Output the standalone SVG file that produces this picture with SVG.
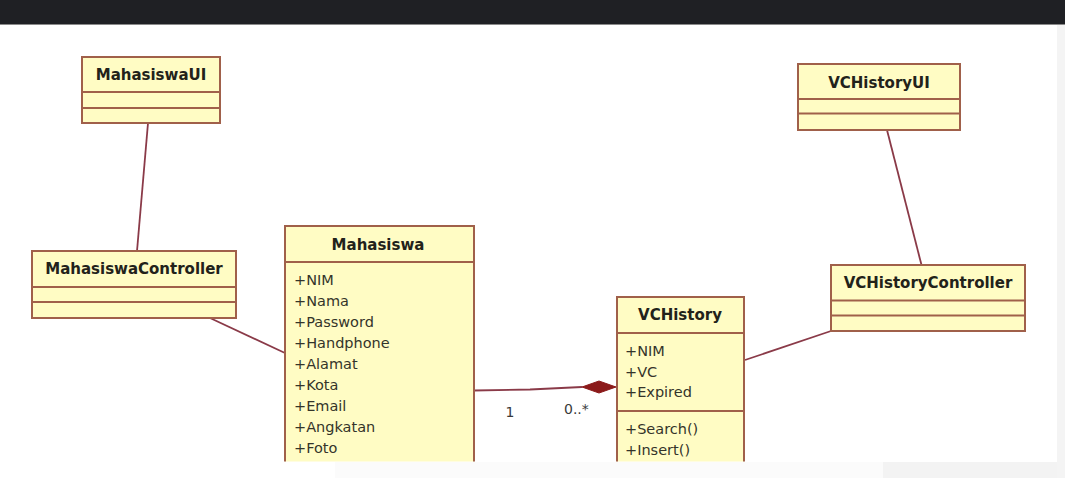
<svg xmlns="http://www.w3.org/2000/svg" width="1065" height="478" viewBox="0 0 1065 478">
<style>
.box{fill:#fffcc4;stroke:#a0604a;stroke-width:2}
.div{stroke:#a0604a;stroke-width:2}
.title{font-family:"DejaVu Sans",Verdana,sans-serif;font-weight:bold;font-size:15px;fill:#22221a;text-anchor:middle}
.attr{font-family:"DejaVu Sans",Verdana,sans-serif;font-size:14.5px;fill:#34342a}
.lbl{font-family:"DejaVu Sans",Verdana,sans-serif;font-size:14px;fill:#3a3a3a}
.conn{stroke:#8a3a48;stroke-width:1.8;fill:none}
</style>
<defs>
<clipPath id="clip"><rect x="0" y="25" width="1057" height="436.5"/></clipPath>
</defs>
<rect x="0" y="0" width="1065" height="478" fill="#ffffff"/>
<rect x="1057" y="24" width="8" height="454" fill="#f4f4f4"/>
<rect x="883" y="462" width="174" height="16" fill="#f3f3f3"/>
<rect x="335" y="462" width="548" height="16" fill="#fbfbfb"/>
<rect x="0" y="0" width="1065" height="24" fill="#1f2024"/>
<line x1="0" y1="24.5" x2="1065" y2="24.5" stroke="#8a8a8a" stroke-width="1"/>
<g clip-path="url(#clip)">
<g id="connectors">
<line class="conn" x1="148" y1="123" x2="137" y2="251"/>
<line class="conn" x1="210" y1="318" x2="285" y2="353"/>
<line class="conn" x1="887" y1="130" x2="921.5" y2="265"/>
<line class="conn" x1="831" y1="331" x2="745" y2="360"/>
<polyline class="conn" points="474,390.5 530,389.5 582,387"/>
<polygon points="582,387 599,381 616,387 599,393" fill="#8b1a1a" stroke="#8b1a1a" stroke-width="1"/>
<text class="lbl" x="510" y="417" text-anchor="middle">1</text>
<text class="lbl" x="564" y="414">0..*</text>
</g>
<g id="MahasiswaUI">
<rect class="box" x="82" y="57" width="138" height="66"/>
<line class="div" x1="82" y1="92" x2="220" y2="92"/>
<line class="div" x1="82" y1="108" x2="220" y2="108"/>
<text class="title" x="151" y="80">MahasiswaUI</text>
</g>
<g id="MahasiswaController">
<rect class="box" x="32" y="251" width="204" height="67"/>
<line class="div" x1="32" y1="287" x2="236" y2="287"/>
<line class="div" x1="32" y1="302" x2="236" y2="302"/>
<text class="title" x="134" y="274">MahasiswaController</text>
</g>
<g id="Mahasiswa">
<rect class="box" x="285" y="226" width="189" height="260"/>
<line class="div" x1="285" y1="262" x2="474" y2="262"/>
<text class="title" x="378" y="250">Mahasiswa</text>
<text class="attr" x="294" y="285">+NIM</text>
<text class="attr" x="294" y="306">+Nama</text>
<text class="attr" x="294" y="327">+Password</text>
<text class="attr" x="294" y="348">+Handphone</text>
<text class="attr" x="294" y="369">+Alamat</text>
<text class="attr" x="294" y="390">+Kota</text>
<text class="attr" x="294" y="411">+Email</text>
<text class="attr" x="294" y="432">+Angkatan</text>
<text class="attr" x="294" y="453">+Foto</text>
</g>
<g id="VCHistory">
<rect class="box" x="617" y="297" width="127" height="200"/>
<line class="div" x1="617" y1="333" x2="744" y2="333"/>
<line class="div" x1="617" y1="411" x2="744" y2="411"/>
<text class="title" x="680" y="320">VCHistory</text>
<text class="attr" x="625" y="356">+NIM</text>
<text class="attr" x="625" y="376.5">+VC</text>
<text class="attr" x="625" y="397">+Expired</text>
<text class="attr" x="625" y="434">+Search()</text>
<text class="attr" x="625" y="455">+Insert()</text>
</g>
<g id="VCHistoryUI">
<rect class="box" x="798" y="64" width="162" height="66"/>
<line class="div" x1="798" y1="99" x2="960" y2="99"/>
<line class="div" x1="798" y1="113.5" x2="960" y2="113.5"/>
<text class="title" x="879" y="88">VCHistoryUI</text>
</g>
<g id="VCHistoryController">
<rect class="box" x="831" y="265" width="194" height="66"/>
<line class="div" x1="831" y1="300.5" x2="1025" y2="300.5"/>
<line class="div" x1="831" y1="315.5" x2="1025" y2="315.5"/>
<text class="title" x="928" y="288">VCHistoryController</text>
</g>
</g>
</svg>
